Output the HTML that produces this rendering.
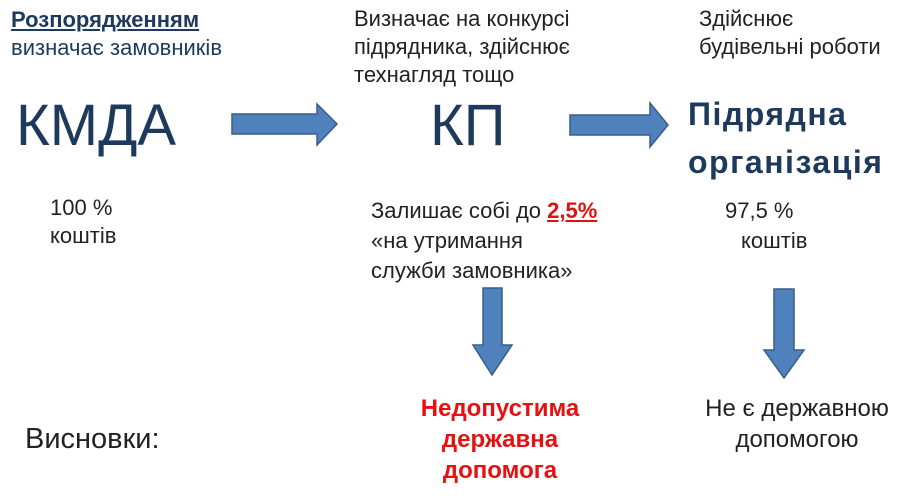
<!DOCTYPE html>
<html><head><meta charset="utf-8"><style>
body{margin:0;width:906px;height:498px;background:#fff;position:relative;overflow:hidden;font-family:"Liberation Sans",sans-serif;color:#222}
.t{position:absolute;white-space:nowrap;font-size:22px;line-height:27px}
.big{position:absolute;white-space:nowrap;color:#1d3a5c}
</style></head><body>
<div class="t" style="left:11px;top:6px;color:#1d3a5c;line-height:28px"><b><u>Розпорядженням</u></b><br>визначає замовників</div>
<div class="t" style="left:354px;top:5px;line-height:28px">Визначає на конкурсі<br>підрядника, здійснює<br>технагляд тощо</div>
<div class="t" style="left:699px;top:5px;line-height:28px">Здійснює<br>будівельні роботи</div>
<div class="big" style="left:16px;top:92px;font-size:58px">КМДА</div>
<div class="big" style="left:430px;top:92px;font-size:58px">КП</div>
<div class="big" style="left:688px;top:90px;font-size:32px;font-weight:bold;line-height:48px;letter-spacing:1.5px">Підрядна<br>організація</div>
<div class="t" style="left:50px;top:194px;line-height:28px;font-size:22px">100 %<br>коштів</div>
<div class="t" style="left:371px;top:196px;line-height:30px">Залишає собі до <b style="color:#e01010;text-decoration:underline">2,5%</b><br>«на утримання<br>служби замовника»</div>
<div class="t" style="left:725px;top:196px;line-height:30px">97,5 %<br><span style="padding-left:16px">коштів</span></div>
<div class="t" style="left:25px;top:422px;font-size:29px;line-height:34px">Висновки:</div>
<div class="t" style="left:380px;top:393px;font-size:24px;line-height:31px;font-weight:bold;color:#e81010;text-align:center;width:240px">Недопустима<br>державна<br>допомога</div>
<div class="t" style="left:677px;top:393px;font-size:24px;line-height:31px;text-align:center;width:240px">Не є державною<br>допомогою</div>
<svg width="906" height="498" style="position:absolute;left:0;top:0">
<g fill="#4f81bd" stroke="#385d8a" stroke-width="1.5">
<polygon points="232,114 317,114 317,104 337,124 317,145 317,134 232,134"/>
<polygon points="570,115 650,115 650,103 668,125 650,147 650,135 570,135"/>
<polygon points="483,288 502,288 502,345 512,345 492,375 473,345 483,345"/>
<polygon points="774,289 794,289 794,350 804,350 784,378 764,350 774,350"/>
</g></svg>
</body></html>
